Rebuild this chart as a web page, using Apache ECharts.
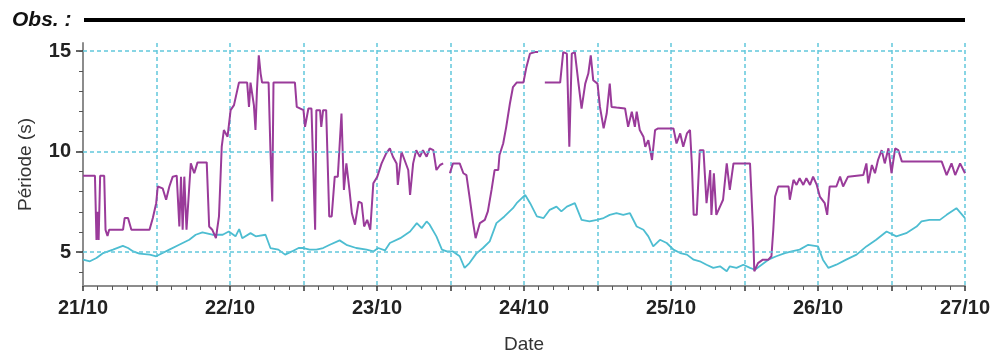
<!DOCTYPE html>
<html><head><meta charset="utf-8">
<script src="https://cdn.jsdelivr.net/npm/echarts@6/dist/echarts.min.js"></script>
<style>html,body{margin:0;padding:0;background:#fff}#c{width:993px;height:355px}</style>
</head><body><div id="c"></div>
<script>
const dayLabels = ['21/10','22/10','23/10','24/10','25/10','26/10','27/10'];
const yLabelValues = [5, 10, 15];
const yMinorTickValues = [4,5,6,7,8,9,10,11,12,13,14,15];

// Hours since 21/10 00:00 and period (s)
const purpleHours = [0.0,1.95,2.2,2.4,2.55,2.8,3.46,3.68,4.0,4.27,6.54,6.8,7.35,7.9,10.86,11.4,11.95,12.2,13.0,13.57,14.1,14.65,15.3,15.73,16.0,16.27,16.54,16.9,17.35,17.6,18.16,18.7,20.2,20.6,21.1,21.7,22.2,22.65,23.0,23.6,24.1,24.65,25.46,26.8,27.1,27.35,27.9,28.16,28.4,28.7,29.0,29.24,30.3,30.6,30.9,31.1,34.6,34.9,36.0,36.25,36.8,37.3,37.9,38.1,38.7,38.9,39.2,39.7,40.2,40.6,41.1,41.6,42.2,42.6,43.0,43.5,43.9,44.4,45.0,45.5,45.9,46.4,46.9,47.4,48.05,48.75,49.5,50.1,50.6,51.2,51.4,52.0,52.5,53.1,53.4,53.9,54.4,55.0,55.5,56.1,56.6,57.2,57.7,58.3,58.8,59.3,59.9,60.4,61.5,62.1,62.6,63.1,63.7,64.1,64.8,65.6,66.1,66.7,67.2,67.8,68.0,68.6,69.1,69.7,70.2,70.8,71.9,72.4,72.97,73.8,74.3,74.8,75.4,77.9,78.4,79.0,79.4,79.8,80.3,80.9,81.4,82.0,82.5,82.9,83.3,84.0,84.4,85.0,85.5,86.0,86.3,87.1,88.5,89.0,89.6,90.1,90.4,90.9,91.5,91.8,92.3,92.9,93.4,93.9,96.4,96.9,97.5,98.0,98.6,99.1,99.4,99.7,100.2,100.7,101.3,101.8,102.4,102.6,103.0,103.4,104.0,104.5,105.1,105.6,106.2,108.9,109.4,109.6,110.2,111.0,111.9,112.4,112.7,113.0,113.5,115.2,115.4,116.0,116.5,117.0,117.6,118.1,118.7,119.2,119.8,120.3,121.1,121.5,121.9,123.0,123.6,124.1,124.9,127.4,127.9,128.2,128.8,129.3,129.8,130.4,130.9,131.5,132.0,132.6,133.1,133.7,140.2,141.0,141.8,142.4,143.2,144.0];
const purpleValues = [8.80,8.80,5.6,7.0,5.6,8.80,8.80,6.1,5.8,6.11,6.11,6.69,6.69,6.11,6.11,6.69,7.43,8.26,8.17,7.60,8.26,8.75,8.80,6.27,8.75,6.11,8.75,6.11,8.26,9.41,8.92,9.46,9.46,6.27,6.11,5.69,6.77,10.24,11.07,10.74,12.06,12.31,13.43,13.43,12.22,13.43,12.31,11.07,13.05,14.79,13.88,13.43,13.43,10.07,7.51,13.43,13.43,12.22,12.06,11.23,12.14,12.14,6.11,12.06,12.06,11.23,12.06,12.06,6.77,6.77,8.75,8.75,11.89,8.09,9.41,8.09,6.93,6.36,7.51,7.43,6.27,6.60,6.11,8.42,8.75,9.41,9.91,10.16,9.74,9.41,8.34,9.99,9.58,9.08,7.84,9.41,10.07,9.74,10.07,9.74,10.16,10.07,9.08,9.33,9.41,null,8.92,9.41,9.41,8.92,8.83,7.76,6.44,5.69,6.44,6.60,7.02,8.09,9.08,9.08,9.83,10.40,11.23,12.39,13.21,13.43,13.43,14.21,14.87,14.95,14.95,null,13.43,13.43,14.95,14.87,10.24,14.87,14.95,13.38,12.14,13.38,13.88,14.79,13.55,13.38,12.22,11.15,11.89,13.38,12.22,12.19,12.14,11.23,11.98,11.23,11.98,11.07,10.74,10.24,10.57,9.58,11.07,11.15,11.15,10.40,10.90,10.24,10.90,11.07,9.41,6.85,6.85,10.07,10.07,7.43,9.08,6.85,8.92,6.85,7.26,7.60,9.41,8.09,9.41,9.41,6.11,4.04,4.45,4.62,4.62,4.79,6.11,7.76,8.26,8.26,7.60,8.59,8.34,8.67,8.34,8.67,8.34,8.75,8.34,7.76,7.43,6.85,8.26,8.26,8.75,8.26,8.75,8.83,9.41,8.42,9.33,8.92,9.58,10.07,9.41,10.16,8.92,10.16,10.07,9.50,9.50,8.83,9.41,8.83,9.41,8.92];

const cyanHours = [0.0,1.13,2.2,3.3,4.9,6.5,7.35,8.2,9.2,10.9,11.95,13.0,14.1,15.7,17.35,18.4,19.5,21.1,22.8,23.8,24.9,25.5,26.0,27.35,28.2,29.8,30.6,31.9,33.0,34.1,35.2,36.0,37.0,38.1,39.2,40.3,41.9,43.0,44.6,46.3,47.4,48.2,49.3,50.1,51.8,53.4,54.5,55.3,56.1,56.6,57.7,58.6,59.4,60.4,61.5,62.3,63.1,64.2,65.3,66.4,67.5,68.8,70.2,70.8,72.2,73.0,74.1,75.2,76.2,77.3,78.1,79.0,80.3,81.4,82.7,83.9,85.0,86.0,87.1,88.2,89.3,90.4,91.5,92.3,93.1,94.2,95.3,96.4,97.5,98.6,99.7,100.7,101.8,102.9,104.0,105.1,105.6,106.7,107.8,108.9,109.7,110.8,111.9,113.2,114.6,115.7,117.0,118.4,120.0,120.8,121.7,123.0,124.6,126.3,127.9,129.5,131.2,132.8,134.4,136.1,136.9,138.2,139.9,141.0,142.6,144.0];
const cyanValues = [4.62,4.54,4.70,4.95,5.12,5.31,5.20,5.03,4.92,4.87,4.79,4.95,5.12,5.36,5.61,5.86,5.98,5.86,5.86,6.02,5.78,6.14,5.69,5.94,5.78,5.86,5.20,5.12,4.87,5.03,5.20,5.20,5.12,5.12,5.20,5.36,5.58,5.36,5.20,5.12,5.03,5.20,5.08,5.45,5.69,6.02,6.44,6.19,6.52,6.36,5.78,5.12,5.03,5.03,4.79,4.21,4.45,4.92,5.20,5.53,6.44,6.77,7.18,7.43,7.84,7.43,6.77,6.69,7.10,7.26,7.02,7.26,7.43,6.60,6.52,6.60,6.69,6.85,6.93,6.85,6.93,6.27,6.11,5.78,5.28,5.61,5.45,5.12,4.95,4.87,4.62,4.54,4.37,4.21,4.29,4.04,4.29,4.21,4.37,4.21,4.12,4.37,4.62,4.79,4.95,5.03,5.12,5.36,5.28,4.62,4.21,4.37,4.62,4.87,5.28,5.61,6.02,5.78,5.94,6.27,6.52,6.60,6.60,6.85,7.18,6.69];

const toPairs = (hs, vs) => hs.map((h, i) => [h, vs[i] === null ? '-' : vs[i]]);

const FONT = 'Liberation Sans, Arial, Helvetica, sans-serif';
const gridColor = '#62c7db';
const chart = echarts.init(document.getElementById('c'), null, {renderer: 'canvas'});
chart.setOption({
  animation: false,
  backgroundColor: '#ffffff',
  textStyle: {fontFamily: FONT},
  grid: {left: 83, right: 28, top: 43, bottom: 69, containLabel: false, outerBoundsMode: 'none'},
  graphic: [
    {type: 'text', left: 12, top: 10, style: {text: 'Obs. :', font: 'italic bold 21px ' + FONT, fill: '#111'}},
    {type: 'line', shape: {x1: 84, y1: 20, x2: 965, y2: 20}, style: {stroke: '#000', lineWidth: 4}}
  ],
  xAxis: {
    type: 'value', min: 0, max: 144, interval: 12,
    axisLine: {lineStyle: {color: '#8c8c8c', width: 2}},
    axisTick: {show: true, length: 5, lineStyle: {color: '#333', width: 1.5}},
    minorTick: {show: true, splitNumber: 5, length: 4, lineStyle: {color: '#555', width: 1}},
    splitLine: {show: true, lineStyle: {color: gridColor, type: [4, 3], width: 1.5}},
    minorSplitLine: {show: false},
    axisLabel: {
      formatter: v => (v % 24 === 0 ? dayLabels[v / 24] : ''),
      fontSize: 20, fontWeight: 'bold', color: '#222', margin: 12, fontFamily: FONT,
      showMinLabel: true, showMaxLabel: true
    },
    name: 'Date', nameLocation: 'middle', nameGap: 49,
    nameTextStyle: {fontSize: 19, color: '#333', fontFamily: FONT}
  },
  yAxis: [
    {
      type: 'value', min: 3.31, max: 15.4,
      axisLine: {show: true, lineStyle: {color: '#8c8c8c', width: 2}},
      axisTick: {show: true, customValues: yLabelValues, length: 7, lineStyle: {color: '#333', width: 1.5}},
      axisLabel: {customValues: yLabelValues, fontSize: 20, fontWeight: 'bold', color: '#222', margin: 12, fontFamily: FONT},
      splitLine: {show: false},
      name: 'Période (s)', nameLocation: 'middle', nameGap: 48,
      nameTextStyle: {fontSize: 19, color: '#333', fontFamily: FONT}
    },
    {
      type: 'value', min: 3.31, max: 15.4, position: 'left',
      axisLine: {show: false},
      axisTick: {show: true, customValues: yMinorTickValues, length: 4, lineStyle: {color: '#555', width: 1}},
      axisLabel: {show: false},
      splitLine: {show: false}
    }
  ],
  series: [
    {
      type: 'line', name: 'cyan', data: toPairs(cyanHours, cyanValues),
      showSymbol: false, lineStyle: {color: '#4dbdd1', width: 1.8}, z: 3,
      markLine: {
        silent: true, symbol: 'none', label: {show: false},
        lineStyle: {color: gridColor, type: [4, 3], width: 1.5},
        data: yLabelValues.map(v => ({yAxis: v}))
      }
    },
    {
      type: 'line', name: 'purple', data: toPairs(purpleHours, purpleValues),
      showSymbol: false, connectNulls: false, lineStyle: {color: '#9a3b9a', width: 2}, z: 4
    }
  ]
});
</script>
</body></html>
